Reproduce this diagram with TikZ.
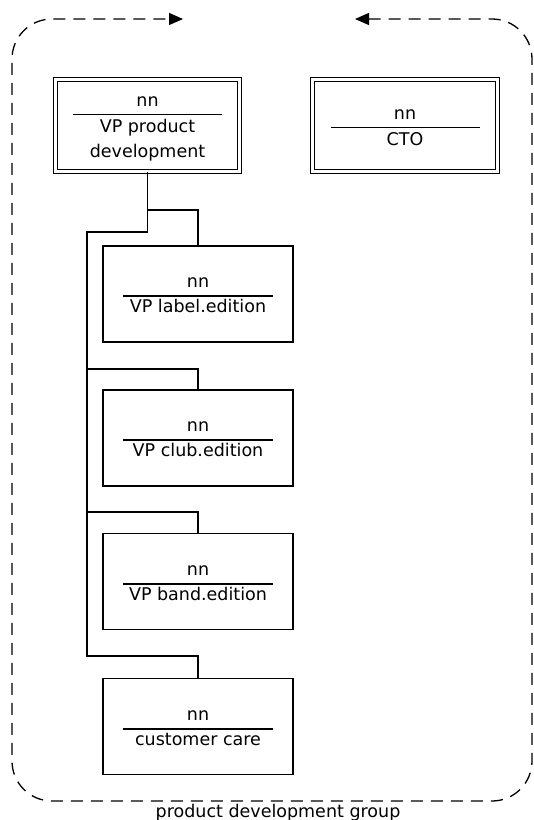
\documentclass[tikz,border=0pt]{standalone}
\usepackage{fontspec}
\setmainfont{DejaVu Sans}
\usetikzlibrary{arrows.meta}

\begin{document}
\begin{tikzpicture}[x=1pt,y=-1pt,
      headbox/.style={rectangle, draw, double, double distance=3pt, line width=1.1pt,
        minimum width=184pt, minimum height=92pt, inner sep=0pt},
      unitbox/.style={rectangle, draw, line width=1.3pt, minimum width=190pt,
        minimum height=96pt, inner sep=0pt},
      txt/.style={font=\fontsize{17.5}{20}\selectfont, anchor=base, inner sep=0pt},
      rule/.style={line width=1.2pt},
      link/.style={line width=1.3pt},
      group/.style={line width=1.3pt, dash pattern=on 12pt off 8pt,
        {Triangle[length=14pt,width=12pt]}-{Triangle[length=14pt,width=12pt]},
        rounded corners=40pt}]

    \useasboundingbox (0,0) rectangle (534,820);

    % group frame
    \coordinate (gin)  at (183,19);
    \coordinate (gout) at (355,19);
    \draw[group] (gout) -| (532,801) -| (12,19) -- (gin);
    \node[txt] (glabel) at (278,817) {product development group};

    % head boxes
    \node[headbox] (vp)  at (147.5,125.5) {};
    \node[headbox, minimum width=185pt] (cto) at (405,125.5) {};

    \node[txt] (vp-nn) at (147.5,106) {nn};
    \draw[rule] (73,114.5) -- (222,114.5);
    \node[txt] (vp-t1) at (147.5,132.5) {VP product};
    \node[txt] (vp-t2) at (147.5,157.5) {development};

    \node[txt] (cto-nn) at (405,119) {nn};
    \draw[rule] (331,127.5) -- (480,127.5);
    \node[txt] (cto-t) at (405,145) {CTO};

    % units
    \node[unitbox] (label) at (198,294)   {};
    \node[unitbox] (club)  at (198,438)   {};
    \node[unitbox] (band)  at (198,581.5) {};
    \node[unitbox] (care)  at (198,726.5) {};

    \node[txt] (label-nn) at (198,287.5) {nn};
    \draw[rule] (123,296) -- (273,296);
    \node[txt] (label-t) at (198,312.5) {VP label.edition};

    \node[txt] (club-nn) at (198,431.5) {nn};
    \draw[rule] (123,440) -- (273,440);
    \node[txt] (club-t) at (198,456.5) {VP club.edition};

    \node[txt] (band-nn) at (198,575.5) {nn};
    \draw[rule] (123,584) -- (273,584);
    \node[txt] (band-t) at (198,600.5) {VP band.edition};

    \node[txt] (care-nn) at (198,720.5) {nn};
    \draw[rule] (123,729) -- (273,729);
    \node[txt] (care-t) at (198,745) {customer care};

    % tree
    \coordinate (split) at (vp.south |- 0,210);
    \coordinate (bend)  at (vp.south |- 0,232);
    \coordinate (trunk) at (87,232);
    \coordinate (b2)    at (87,369);
    \coordinate (b3)    at (87,512);
    \coordinate (b4)    at (87,656);

    \draw[link] (vp.south) -- (bend) -- (trunk) -- (b4) -| (care.north);
    \draw[link] (split) -| (label.north);
    \draw[link] (b2) -| (club.north);
    \draw[link] (b3) -| (band.north);

  \end{tikzpicture}
\end{document}
